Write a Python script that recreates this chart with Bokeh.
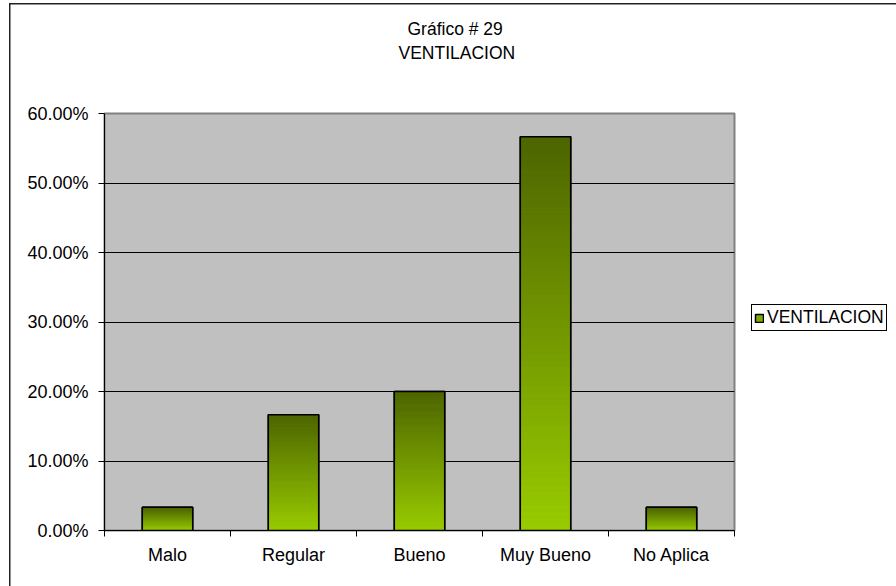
import numpy as np
from bokeh.plotting import figure
from bokeh.models import (ColumnDataSource, FixedTicker, NumeralTickFormatter,
                          Title, Legend, LegendItem)
from bokeh.embed import file_html
from bokeh.resources import INLINE

# ---- data ----
title_lines = ["Gráfico # 29", "VENTILACION"]
categories = ["Malo", "Regular", "Bueno", "Muy Bueno", "No Aplica"]
values = [0.0333, 0.1667, 0.2000, 0.5667, 0.0333]
y_ticks = [0.0, 0.1, 0.2, 0.3, 0.4, 0.5, 0.6]
series_name = "VENTILACION"

# ---- style ----
FONT = "Liberation Sans"
FS = "18px"
FS_T = "17.5px"
DARK = (77, 100, 0)
LIGHT = (153, 204, 0)
BAR_W = 0.4
N_STRIPS = 60

n = len(categories)
p = figure(frame_width=630, frame_height=417, x_range=(0, n), y_range=(y_ticks[0], y_ticks[-1]),
           output_backend="svg", toolbar_location=None, title=None,
           min_border_left=104, min_border_right=162, min_border_top=113, min_border_bottom=56,
           background_fill_color="#C0C0C0", border_fill_color="white", border_fill_alpha=0,
           outline_line_color="#808080", outline_line_width=2)
# outer chart border (left and top edges visible in the window)
p.styles = {
    "background": "linear-gradient(#222,#222) 9px 3px / 1.5px 600px no-repeat, "
                  "linear-gradient(#222,#222) 9px 3px / 900px 1.5px no-repeat, white"
}

xs = [i + 0.5 for i in range(n)]

# base bars (also the legend's glyph)
r_base = p.vbar(x=xs, top=values, width=BAR_W, fill_color="#7FAA00", line_color="black",
                line_width=1.5)

# gradient strips
left, right, bottom, top, color = [], [], [], [], []
for xc, v in zip(xs, values):
    for i in range(N_STRIPS):
        t = (i + 0.5) / N_STRIPS
        c = tuple(int(round(LIGHT[k] + (DARK[k] - LIGHT[k]) * t)) for k in range(3))
        left.append(xc - BAR_W / 2)
        right.append(xc + BAR_W / 2)
        bottom.append(v * i / N_STRIPS)
        top.append(v * (i + 1) / N_STRIPS)
        color.append("#%02x%02x%02x" % c)
strips = ColumnDataSource(dict(left=left, right=right, bottom=bottom, top=top, color=color))
p.quad(left="left", right="right", bottom="bottom", top="top", source=strips,
       fill_color="color", line_color="color", line_width=0.6)

# bar outlines
p.vbar(x=xs, top=values, width=BAR_W, fill_color=None, line_color="black", line_width=1.5)

# axes
p.xaxis.ticker = FixedTicker(ticks=xs, minor_ticks=list(range(n + 1)))
p.xaxis.major_label_overrides = {x: c for x, c in zip(xs, categories)}
p.xaxis.major_tick_out = 0
p.xaxis.major_tick_in = 0
p.xaxis.minor_tick_out = 6
p.xaxis.minor_tick_in = 0
p.xaxis.minor_tick_line_color = "black"
p.xaxis.major_label_standoff = 8

p.yaxis.ticker = FixedTicker(ticks=y_ticks)
p.yaxis.formatter = NumeralTickFormatter(format="0.00%")
p.yaxis.major_tick_out = 6
p.yaxis.major_tick_in = 0
p.yaxis.minor_tick_line_color = None
p.yaxis.major_label_standoff = 10

for ax in (p.xaxis, p.yaxis):
    ax.axis_line_color = "black"
    ax.major_tick_line_color = "black"
    ax.major_label_text_font = FONT
    ax.major_label_text_font_size = FS
    ax.major_label_text_color = "black"

p.xgrid.visible = False
p.ygrid.ticker = FixedTicker(ticks=y_ticks)
p.ygrid.grid_line_color = "black"
p.ygrid.grid_line_width = 1

# titles (two lines, centred at x~456); a blank spacer sits next to the frame
p.add_layout(Title(text=" ", standoff=28, text_font=FONT, text_font_size=FS_T), "above")
p.add_layout(Title(text=title_lines[1], align="left", offset=294, standoff=2,
                   text_font=FONT, text_font_size=FS_T, text_font_style="normal",
                   text_color="black"), "above")
p.add_layout(Title(text=title_lines[0], align="left", offset=303, standoff=2,
                   text_font=FONT, text_font_size=FS_T, text_font_style="normal",
                   text_color="black"), "above")

legend = Legend(items=[LegendItem(label=series_name, renderers=[r_base])],
                location=(17, 199), border_line_color="black", border_line_width=1,
                border_line_alpha=1,
                padding=2, margin=0, spacing=0, glyph_width=10, glyph_height=10,
                label_standoff=3, label_text_font=FONT, label_text_font_size=FS_T,
                label_text_color="black",
                background_fill_color="white", background_fill_alpha=1)
p.add_layout(legend, "right")

open("out.html", "w").write(file_html(p, INLINE))
